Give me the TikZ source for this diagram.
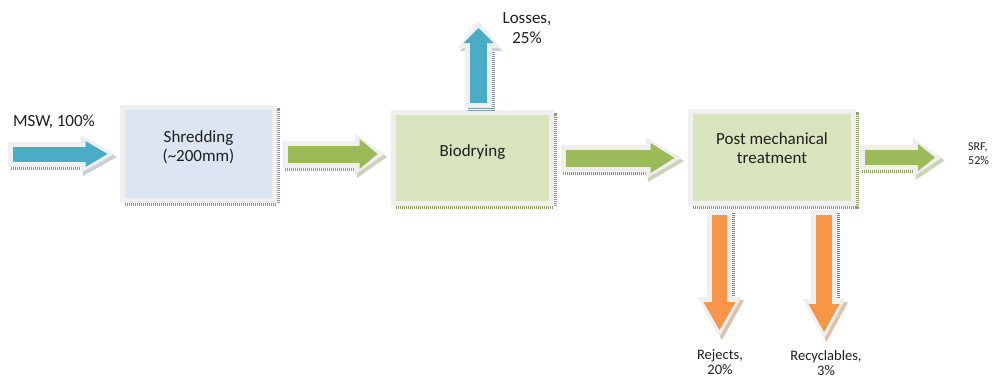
\documentclass[tikz,border=0pt]{standalone}
\usepackage{fontspec}
\setmainfont{Carlito}
\usetikzlibrary{arrows.meta}

\definecolor{halo}{HTML}{EFEFEF}
\definecolor{ink}{HTML}{1E1E1E}
\definecolor{boxblue}{HTML}{DCE6F2}
\definecolor{boxgreen}{HTML}{D7E4BD}
\definecolor{arrowblue}{HTML}{4BACC6}
\definecolor{arrowgreen}{HTML}{9BBB59}
\definecolor{arroworange}{HTML}{F79646}
\definecolor{shadeblue}{HTML}{8098AA}
\definecolor{shadegreen}{HTML}{8E9E6A}
\definecolor{shadeorange}{HTML}{B5763A}

\tikzset{
  box/.style n args={2}{draw=halo, line width=5pt, fill=#1, inner sep=0pt,
    preaction={draw=#2, dash pattern=on 1pt off 1pt,
      transform canvas={shift={(2.5pt,-2.5pt)}}}},
  boxtext/.style={font=\fontsize{17}{19}\selectfont, align=center, inner sep=0pt, text=ink},
  lbl/.style={font=\fontsize{17}{20}\selectfont, align=center, inner sep=0pt, text=ink},
  lblmid/.style={font=\fontsize{14.5}{15}\selectfont, align=center, inner sep=0pt, text=ink},
  lblsmall/.style={font=\fontsize{12}{14}\selectfont, align=left, inner sep=0pt, text=ink},
  % colour, shadow colour, shaft, head width, head length
  flow/.style n args={5}{draw=#1, line width=#3, shorten <=5pt, shorten >=7pt,
    -{Triangle[width=#4, length=#5, line width=0pt]},
    preaction={draw=#2, line width=#3+10pt, dash pattern=on 1pt off 1pt,
      shorten <=0pt, shorten >=0pt, transform canvas={shift={(2.5pt,-3pt)}},
      -{Triangle[width=#4+12pt, length=#5+12pt, line width=0pt, color=#2!45!white]}},
    preaction={draw=halo, line width=#3+10pt, shorten <=0pt, shorten >=0pt,
      -{Triangle[width=#4+12pt, length=#5+12pt, line width=0pt]}}},
}

\begin{document}
\begin{tikzpicture}[x=1pt,y=-1pt]
\useasboundingbox (0,0) rectangle (996,378);

% process boxes
\node[box={boxblue}{shadeblue}, minimum width=152pt, minimum height=93pt] (shred) at (198.5,154) {};
\node[box={boxgreen}{shadegreen}, minimum width=158pt, minimum height=91pt] (bio) at (472.5,158) {};
\node[box={boxgreen}{shadegreen}, minimum width=163pt, minimum height=92pt] (post) at (772,157.5) {};
\node[boxtext] (shredtxt) at ([yshift=6.5pt]shred.center) {Shredding\\(\textasciitilde200mm)};
\node[boxtext] (biotxt) at ([yshift=5.5pt]bio.center) {Biodrying};
\node[boxtext] (posttxt) at ([yshift=9pt]post.center) {Post mechanical\\treatment};

% free ends of the flows
\coordinate (msw) at (8,154);
\coordinate (srf) at (942,157.5);
\coordinate (losses) at (478.5,21);
\coordinate (rejects) at (719.5,337);
\coordinate (recycl) at (824,339);

% flows
\draw[flow={arrowblue}{shadeblue}{15pt}{26pt}{22pt}] (msw) -- ([xshift=-5.5pt]shred.west);
\draw[flow={arrowgreen}{shadegreen}{17pt}{30pt}{18pt}] ([xshift=5.5pt]shred.east) -- ([xshift=-6.5pt]shred.east -| bio.west);
\draw[flow={arrowgreen}{shadegreen}{17pt}{30pt}{24pt}] ([xshift=6.5pt]bio.east) -- ([xshift=-6.5pt]bio.east -| post.west);
\draw[flow={arrowgreen}{shadegreen}{15pt}{27pt}{17pt}] ([xshift=3.5pt]post.east) -- (srf);
\draw[flow={arrowblue}{shadeblue}{17pt}{30pt}{15pt}] ([xshift=6pt,yshift=2.5pt]bio.north) -- (losses);
\draw[flow={arroworange}{shadeorange}{15pt}{32pt}{28pt}] ([yshift=-3.5pt]post.south -| rejects) -- (rejects);
\draw[flow={arroworange}{shadeorange}{16pt}{31pt}{28pt}] ([yshift=-3.5pt]post.south -| recycl) -- (recycl);

% labels
\node[lbl, anchor=north west] (mswlbl) at (13,115) {MSW, 100\%};
\node[lbl, anchor=north] (losslbl) at (527,12) {Losses,\\25\%};
\node[lblsmall, anchor=north west] (srflbl) at (968,143) {SRF,\\52\%};
\node[lblmid, anchor=north] (rejlbl) at (720,349) {Rejects,\\20\%};
\node[lblmid, anchor=north] (reclbl) at (826,350) {Recyclables,\\3\%};
\end{tikzpicture}
\end{document}
